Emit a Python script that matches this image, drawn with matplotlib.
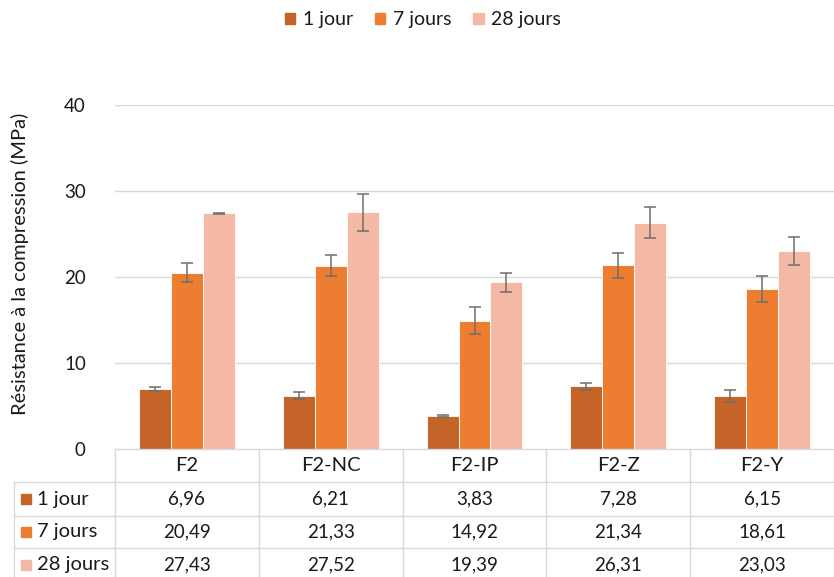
import matplotlib.pyplot as plt
import numpy as np
from matplotlib.patches import Patch, Rectangle
from matplotlib.lines import Line2D

plt.rcParams['font.family'] = ['Lato', 'DejaVu Sans']

# données
formulations = ["F2", "F2-NC", "F2-IP", "F2-Z", "F2-Y"]
series = ["1 jour", "7 jours", "28 jours"]
val_1j = [6.96, 6.21, 3.83, 7.28, 6.15]
val_7j = [20.49, 21.33, 14.92, 21.34, 18.61]
val_28j = [27.43, 27.52, 19.39, 26.31, 23.03]
err_1j = [0.27, 0.43, 0.10, 0.45, 0.70]
err_7j = [1.10, 1.22, 1.60, 1.50, 1.50]
err_28j = [0.05, 2.12, 1.12, 1.80, 1.65]
yticks = [0, 10, 20, 30, 40]

colors = ["#C46428", "#ED7D31", "#F4B9A4"]
grid_col = "#D9D9D9"
txt_col = "#1A1A1A"
fs_num = 13.5
fs_txt = 14.5

W, H = 834, 577
fig = plt.figure(figsize=(W / 100, H / 100), dpi=100)

# zone de tracé (pixels)
x0, x1, yb, yt = 115, 834, 449, 105
ax = fig.add_axes([x0 / W, 1 - yb / H, (x1 - x0) / W, (yb - yt) / H])

n = len(formulations)
x = np.arange(n)
bw = 2 / 9
vals = [val_1j, val_7j, val_28j]
errs = [err_1j, err_7j, err_28j]
for i, (v, e) in enumerate(zip(vals, errs)):
    ax.bar(x + (i - 1) * bw, v, width=bw, color=colors[i], edgecolor="white",
           linewidth=0.6, zorder=2)
    ax.errorbar(x + (i - 1) * bw, v, yerr=e, fmt="none", ecolor="#6E6E6E",
                elinewidth=1.1, capsize=4, capthick=1.1, zorder=3)

ax.set_xlim(-0.5, n - 0.5)
ax.set_ylim(0, 40)
ax.set_yticks(yticks)
ax.set_yticklabels([str(t) for t in yticks], fontsize=fs_num, color=txt_col)
ax.tick_params(axis="y", length=0, pad=21)
ax.set_xticks([])
for t in yticks[1:]:
    ax.axhline(t, color=grid_col, linewidth=1, zorder=0)
for s in ax.spines.values():
    s.set_visible(False)
fig.text(20 / W, 1 - 264 / H, "Résistance à la compression (MPa)", rotation=90,
         ha="center", va="center", fontsize=fs_txt, color=txt_col)

# tableau de données sous le graphique (axe en pixels)
tab = fig.add_axes([0, 0, 1, 1])
tab.set_xlim(0, W)
tab.set_ylim(H, 0)
tab.axis("off")
tab.patch.set_alpha(0)

col_edges = np.linspace(x0, x1, n + 1)
row_edges = [449, 482, 516, 548, 581]
lw = 1
# lignes horizontales
tab.add_line(Line2D([x0, x1], [row_edges[0]] * 2, color=grid_col, lw=lw))
for r in row_edges[1:]:
    tab.add_line(Line2D([14, x1], [r, r], color=grid_col, lw=lw))
# lignes verticales
tab.add_line(Line2D([14, 14], [row_edges[1], row_edges[-1]], color=grid_col, lw=lw))
for c in col_edges:
    tab.add_line(Line2D([c, c], [row_edges[0], row_edges[-1]], color=grid_col, lw=lw))

centers = (col_edges[:-1] + col_edges[1:]) / 2
hy = (row_edges[0] + row_edges[1]) / 2
for cx, name in zip(centers, formulations):
    tab.text(cx, hy, name, ha="center", va="center", fontsize=fs_txt, color=txt_col)
for j, (lab, v) in enumerate(zip(series, vals)):
    ry = (row_edges[j + 1] + row_edges[j + 2]) / 2
    tab.add_patch(Rectangle((21, ry - 5), 10, 10, color=colors[j]))
    tab.text(37, ry, lab, ha="left", va="center", fontsize=fs_txt, color=txt_col)
    for cx, val in zip(centers, v):
        tab.text(cx, ry, f"{val:.2f}".replace(".", ","), ha="center",
                 va="center", fontsize=fs_num, color=txt_col)

# légende
handles = [Patch(color=c, label=s) for c, s in zip(colors, series)]
fig.legend(handles=handles, loc="center", bbox_to_anchor=(0.5 + 6 / W, 1 - 20 / H),
           ncol=3, frameon=False, fontsize=14, handlelength=0.55,
           handleheight=0.55, handletextpad=0.4, columnspacing=1.1,
           labelcolor=txt_col)

fig.savefig("out.png", dpi=100)
